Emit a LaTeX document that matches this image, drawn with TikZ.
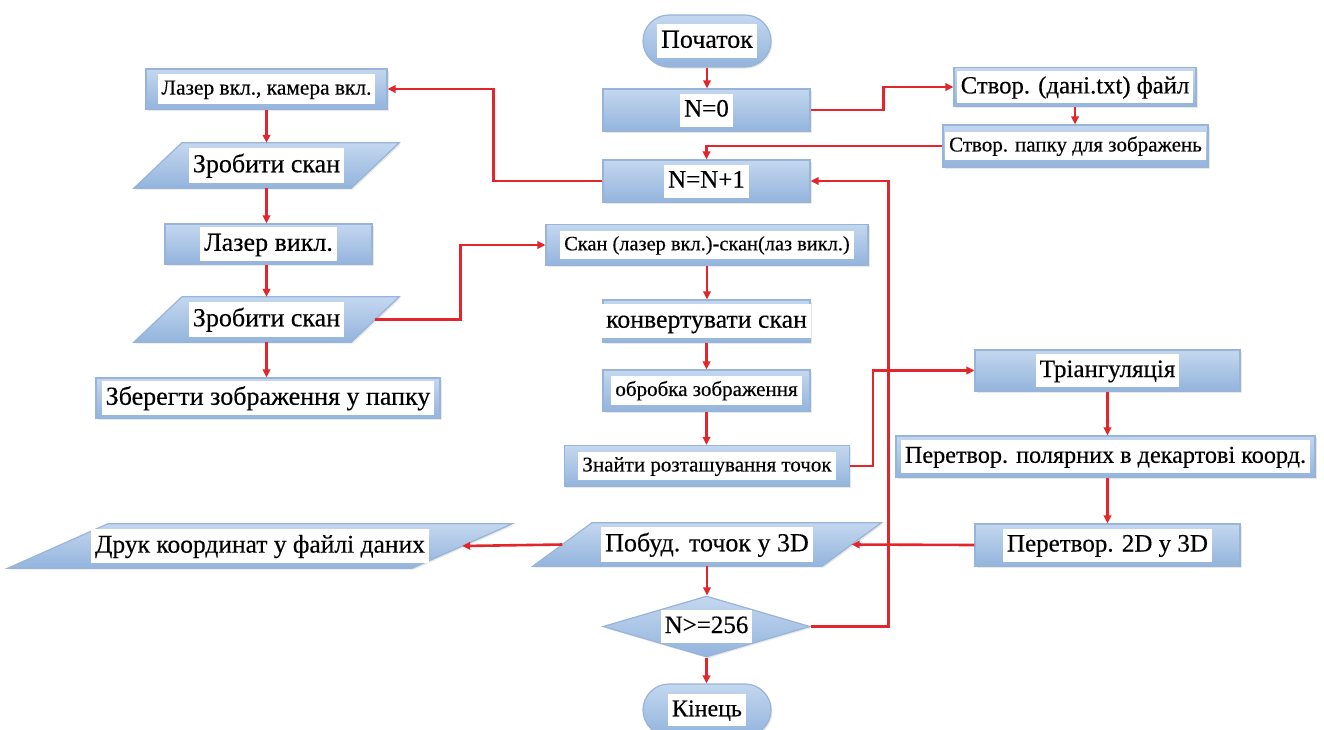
\documentclass[tikz,border=0pt]{standalone}
\usepackage{fontspec}
\setmainfont{Liberation Serif}
\newfontfamily\tnr[FakeBold=0.35]{Liberation Serif}
\usetikzlibrary{arrows.meta,shapes.geometric,shadows,calc}
\definecolor{boxtop}{HTML}{C4D7EF}
\definecolor{boxbot}{HTML}{93B4DD}
\definecolor{boxline}{HTML}{98B4D9}
\definecolor{flow}{HTML}{E3262B}
\tikzset{
  blk/.style={draw=boxline, line width=1.2pt, top color=boxtop, bottom color=boxbot,
    drop shadow={opacity=0.18, shadow xshift=1.5pt, shadow yshift=-1.5pt}},
  rbox/.style n args={2}{blk, rectangle, inner sep=0pt, minimum width=#1pt, minimum height=#2pt},
  term/.style={blk, rectangle, rounded corners=26pt, inner sep=0pt, minimum width=128pt, minimum height=52pt},
  hold/.style n args={2}{rectangle, inner sep=0pt, minimum width=#1pt, minimum height=#2pt},
  txt/.style={fill=white, inner xsep=4pt, inner ysep=3pt, text height=0.8*#1pt, text depth=0.28*#1pt,
    font=\tnr\fontsize{#1}{#1}\selectfont},
  flowline/.style={draw=flow, line width=2.6pt, -{Triangle[length=8pt,width=7.5pt]}}
}
\newcommand\mypara[2]{%
  \path[blk] ($(#1.south west)+(-#2pt,0)$) -- ($(#1.north west)+(#2pt,0)$) --
    ($(#1.north east)+(#2pt,0)$) -- ($(#1.south east)+(-#2pt,0)$) -- cycle;}
\begin{document}
\begin{tikzpicture}[x=1pt,y=-1pt]
\useasboundingbox (0,0) rectangle (1324,729);
% shapes
\node[term] (start) at (707,41) {};
\node[txt=26] (start-t) at (start) {Початок};
\node[rbox={207}{42}] (n0) at (706.5,110) {};
\node[txt=25] (n0-t) at (n0) {N=0};
\node[rbox={207}{42}] (nn) at (706.5,181) {};
\node[txt=25] (nn-t) at (nn) {N=N+1};
\node[rbox={241}{40}] (laser) at (266.5,89) {};
\node[txt=21.4] (laser-t) at (laser) {Лазер вкл., камера вкл.};
\node[hold={217}{45}] (scanA) at (266.5,165.5) {};
\mypara{scanA}{24}
\node[txt=26] (scanA-t) at (scanA) {Зробити скан};
\node[rbox={207}{40}] (laseroff) at (268.5,244) {};
\node[txt=26] (laseroff-t) at (laseroff) {Лазер викл.};
\node[hold={217}{45}] (scanB) at (266.5,319.5) {};
\mypara{scanB}{24}
\node[txt=26] (scanB-t) at (scanB) {Зробити скан};
\node[rbox={344}{40}] (save) at (268,398) {};
\node[txt=26] (save-t) at (save) {Зберегти зображення у папку};
\node[rbox={242}{39}] (file) at (1075,87) {};
\node[txt=24.7] (file-t) at (file) {Створ. (дані.txt) файл};
\node[rbox={265}{42}] (folder) at (1075.5,146) {};
\node[txt=21] (folder-t) at (folder) {Створ. папку для зображень};
\node[rbox={322}{41}] (skan) at (707,245) {};
\node[txt=20.4] (skan-t) at (skan) {Скан (лазер вкл.)-скан(лаз викл.)};
\node[rbox={207}{42}] (conv) at (706.5,321) {};
\node[txt=25.8] (conv-t) at (conv) {конвертувати скан};
\node[rbox={207}{41}] (proc) at (706.5,390.5) {};
\node[txt=21] (proc-t) at (proc) {обробка зображення};
\node[rbox={285}{41}] (find) at (707,466) {};
\node[txt=21] (find-t) at (find) {Знайти розташування точок};
\node[rbox={265}{41}] (tri) at (1107.5,370.5) {};
\node[txt=25] (tri-t) at (tri) {Тріангуляція};
\node[rbox={419}{41}] (polar) at (1105.5,456.5) {};
\node[txt=24.2] (polar-t) at (polar) {Перетвор. полярних в декартові коорд.};
\node[rbox={265}{42}] (p2d) at (1107.5,545) {};
\node[txt=25] (p2d-t) at (p2d) {Перетвор. 2D у 3D};
\node[hold={289}{43}] (build) at (707,544.5) {};
\mypara{build}{29.5}
\node[txt=26] (build-t) at (build) {Побуд. точок у 3D};
\node[hold={404}{44}] (print) at (260,546) {};
\mypara{print}{50}
\node[txt=25.5] (print-t) at (print) {Друк координат у файлі даних};
\node[blk, diamond, inner sep=0pt, aspect=3.4, minimum width=207pt, minimum height=61pt] (dec) at (706.5,626.5) {};
\node[txt=25] (dec-t) at (dec) {N>=256};
\node[term] (endn) at (707,710) {};
\node[txt=24] (endn-t) at (endn) {Кінець};
% connectors
\draw[flowline] (start.south) -- (start.south |- n0.north);
\draw[flowline] (n0.east) -- ++(73,0) |- (file.west);
\draw[flowline] (file.south) -- (file.south |- folder.north);
\draw[flowline] (folder.west) -| (nn.north);
\draw[flowline] (nn.west) -- ++(-109,0) |- (laser.east);
\draw[flowline] (laser.south) -- (laser.south |- scanA.north);
\draw[flowline] (scanA.south) -- (scanA.south |- laseroff.north);
\draw[flowline] (scanA.south |- laseroff.south) -- (scanA.south |- scanB.north);
\draw[flowline] (scanB.south) -- (scanB.south |- save.north);
\draw[flowline] (scanB.east) -- ++(85,0) |- (skan.west);
\draw[flowline] (skan.south) -- (skan.south |- conv.north);
\draw[flowline] (conv.south) -- (proc.north);
\draw[flowline] (proc.south) -- (proc.south |- find.north);
\draw[flowline] (find.east) -- ++(23,0) |- (tri.west);
\draw[flowline] (tri.south) -- (tri.south |- polar.north);
\draw[flowline] (tri.south |- polar.south) -- (tri.south |- p2d.north);
\draw[flowline] (p2d.west) -- (build.east);
\draw[flowline] (build.west) -- (print.east);
\draw[flowline] (build.south) -- (build.south |- dec.north);
\draw[flowline] (dec.east) -- ++(78,0) |- (nn.east);
\draw[flowline] (dec.south) -- (dec.south |- endn.north);
\end{tikzpicture}
\end{document}
